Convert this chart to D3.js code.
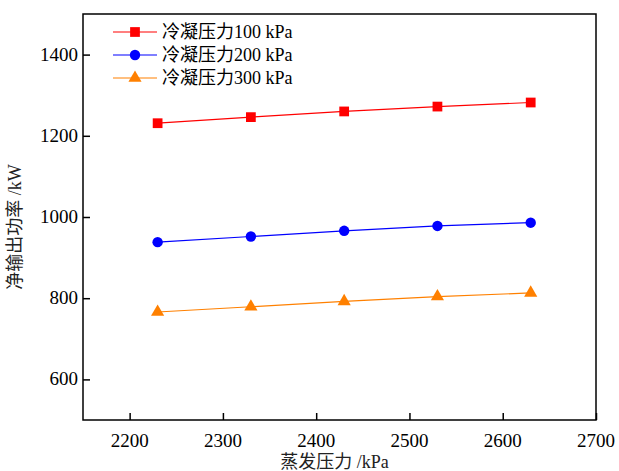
<!DOCTYPE html>
<html>
<head>
<meta charset="utf-8">
<script src="https://cdn.jsdelivr.net/npm/d3@7"></script>
</head>
<body style="margin:0; background:#fff">
<div id="chart"></div>
<script>
// data
var evapPressure = [2230, 2330, 2430, 2530, 2630];
var cond100 = [1231, 1246, 1260, 1272, 1282];
var cond200 = [938, 952, 966, 978, 986];
var cond300 = [766, 779, 792, 804, 813];
var seriesLabels = ["100 kPa", "200 kPa", "300 kPa"];
var xTicks = [2200, 2300, 2400, 2500, 2600, 2700];
var yTicks = [600, 800, 1000, 1200, 1400];

var latin = "Liberation Serif";
var cjk = "Noto Sans CJK SC";

var svgWidth = 619, svgHeight = 471;
var margin = {top: 14, right: 23, bottom: 51, left: 83};
var width = svgWidth - margin.left - margin.right;
var height = svgHeight - margin.top - margin.bottom;

var svg = d3.select("#chart").append("svg")
    .attr("width", svgWidth)
    .attr("height", svgHeight);

var chartGroup = svg.append("g")
    .attr("transform", `translate(${margin.left}, ${margin.top})`);

var xScale = d3.scaleLinear().domain([2150, 2700]).range([0, width]);
var yScale = d3.scaleLinear().domain([500, 1500]).range([height, 0]);

// frame
chartGroup.append("rect")
    .attr("width", width).attr("height", height)
    .attr("fill", "none").attr("stroke", "#000").attr("stroke-width", 1.5);

// axes: tick marks inward, labels drawn separately
var xAxis = chartGroup.append("g")
    .attr("transform", `translate(0, ${height})`)
    .call(d3.axisBottom(xScale).tickValues(xTicks).tickFormat("")
        .tickSizeInner(-7).tickSizeOuter(0));
var yAxis = chartGroup.append("g")
    .call(d3.axisLeft(yScale).tickValues(yTicks).tickFormat("")
        .tickSizeInner(-7).tickSizeOuter(0));

[xAxis, yAxis].forEach(function(ax){
    ax.select(".domain").remove();
    ax.selectAll("line").attr("stroke", "#000").attr("stroke-width", 1.5);
});

chartGroup.selectAll(".xlab")
    .data(xTicks)
    .enter()
    .append("text")
    .attr("class", "xlab")
    .attr("x", d => xScale(d))
    .attr("y", height + 27)
    .attr("text-anchor", "middle")
    .attr("font-family", latin).attr("font-size", 19).attr("fill", "#000")
    .text(d => d);

chartGroup.selectAll(".ylab")
    .data(yTicks)
    .enter()
    .append("text")
    .attr("class", "ylab")
    .attr("x", -5)
    .attr("y", d => yScale(d) + 6)
    .attr("text-anchor", "end")
    .attr("font-family", latin).attr("font-size", 19).attr("fill", "#000")
    .text(d => d);

// mixed CJK / latin text helper
function mixed(t, cn, en){
    t.append("tspan").attr("font-family", cjk).text(cn);
    t.append("tspan").attr("font-family", latin).text(en);
}

// axis titles
var xTitle = chartGroup.append("text")
    .attr("x", width / 2 - 5).attr("y", height + 48)
    .attr("text-anchor", "middle")
    .attr("font-size", 18).attr("fill", "#222");
mixed(xTitle, "蒸发压力", " /kPa");

var yTitle = chartGroup.append("text")
    .attr("transform", "rotate(-90)")
    .attr("x", -height / 2 - 10).attr("y", -62)
    .attr("text-anchor", "middle")
    .attr("font-size", 18).attr("fill", "#222");
mixed(yTitle, "净输出功率", " /kW");

var series = [
    {label: seriesLabels[0], values: cond100, color: "#ff0000", shape: d3.symbolSquare, size: 95},
    {label: seriesLabels[1], values: cond200, color: "#0000ff", shape: d3.symbolCircle, size: 85},
    {label: seriesLabels[2], values: cond300, color: "#ff8000", shape: d3.symbolTriangle, size: 75}
];

var line = d3.line()
    .x(function(d, i){ return xScale(evapPressure[i]); })
    .y(function(d){ return yScale(d); });

series.forEach(function(s){
    chartGroup.append("path")
        .datum(s.values)
        .attr("d", line)
        .attr("fill", "none")
        .attr("stroke", s.color)
        .attr("stroke-width", 1.2);

    chartGroup.selectAll(null)
        .data(s.values)
        .enter()
        .append("path")
        .attr("d", d3.symbol().type(s.shape).size(s.size))
        .attr("transform", function(d, i){ return `translate(${xScale(evapPressure[i])}, ${yScale(d)})`; })
        .attr("fill", s.color);
});

// legend
var legend = svg.append("g").attr("transform", "translate(113, 32)");
series.forEach(function(s, i){
    var g = legend.append("g").attr("transform", `translate(0, ${i * 23})`);
    g.append("line").attr("x1", 0).attr("x2", 44).attr("y1", 0).attr("y2", 0)
        .attr("stroke", s.color).attr("stroke-width", 1.2);
    g.append("path").attr("d", d3.symbol().type(s.shape).size(s.size))
        .attr("transform", "translate(22, 0)").attr("fill", s.color);
    var t = g.append("text").attr("x", 49).attr("y", 6)
        .attr("font-size", 18).attr("fill", "#000");
    mixed(t, "冷凝压力", s.label);
});
</script>
</body>
</html>
